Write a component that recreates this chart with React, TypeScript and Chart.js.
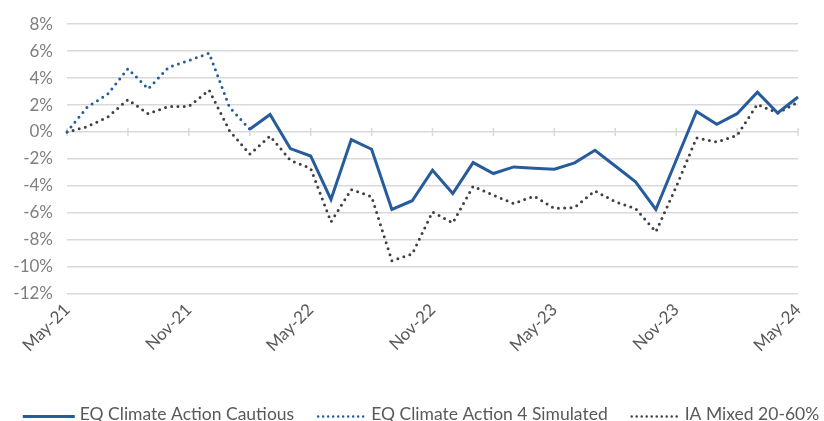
import React, { useEffect, useRef } from "react";
import { Chart, registerables } from "chart.js";

Chart.register(...registerables);

const months = [
  "May-21","Jun-21","Jul-21","Aug-21","Sep-21","Oct-21","Nov-21","Dec-21","Jan-22","Feb-22","Mar-22","Apr-22",
  "May-22","Jun-22","Jul-22","Aug-22","Sep-22","Oct-22","Nov-22","Dec-22","Jan-23","Feb-23","Mar-23","Apr-23",
  "May-23","Jun-23","Jul-23","Aug-23","Sep-23","Oct-23","Nov-23","Dec-23","Jan-24","Feb-24","Mar-24","Apr-24",
  "May-24",
];

const cautious: (number | null)[] = [
  null, null, null, null, null, null, null, null, null, 0.2, 1.3, -1.23,
  -1.78, -5.0, -0.56, -1.28, -5.75, -5.1, -2.84, -4.57, -2.27, -3.08, -2.59, -2.69,
  -2.76, -2.29, -1.36, -2.52, -3.7, -5.75, -2.1, 1.53, 0.57, 1.36, 2.96, 1.41,
  2.6,
];

const simulated: (number | null)[] = [
  0, 1.85, 2.8, 4.7, 3.2, 4.8, 5.3, 5.85, 1.85, 0.2, null, null,
  null, null, null, null, null, null, null, null, null, null, null, null,
  null, null, null, null, null, null, null, null, null, null, null, null,
  null,
];

const iaMixed: number[] = [
  0, 0.4, 1.1, 2.4, 1.35, 1.9, 1.9, 3.1, 0.1, -1.65, -0.3, -2.1,
  -2.7, -6.67, -4.27, -4.8, -9.55, -9.06, -5.93, -6.74, -4.02, -4.69, -5.31, -4.76,
  -5.68, -5.6, -4.37, -5.18, -5.68, -7.4, -4.07, -0.44, -0.74, -0.25, 2.05, 1.41,
  2.22,
];

const seriesNames = ["EQ Climate Action Cautious", "EQ Climate Action 4 Simulated", "IA Mixed 20-60%"];

const FONT = "Lato, 'Open Sans', sans-serif";
const BLUE = "#265C9B";
const DARK = "#404040";

const zeroTicks = {
  id: "zeroTicks",
  beforeDatasetsDraw(chart: any) {
    const x = chart.scales.x;
    const y = chart.scales.y;
    const y0 = y.getPixelForValue(0);
    const ctx = chart.ctx;
    ctx.save();
    ctx.strokeStyle = "#d9d9d9";
    ctx.lineWidth = 1.5;
    for (let i = 0; i < months.length; i += 3) {
      const px = x.getPixelForValue(i);
      ctx.beginPath();
      ctx.moveTo(px, y0 - 4);
      ctx.lineTo(px, y0 + 4);
      ctx.stroke();
    }
    ctx.restore();
  },
};

const bottomLegend = {
  id: "bottomLegend",
  afterDraw(chart: any) {
    const ctx = chart.ctx;
    ctx.save();
    ctx.font = `17.5px ${FONT}`;
    const lineW = 52;
    const textGap = 5;
    const itemGap = 20;
    const widths = chart.data.datasets.map((ds: any) => ctx.measureText(ds.label).width);
    const total = widths.reduce((a: number, w: number) => a + lineW + textGap + w, 0) + itemGap * (widths.length - 1);
    let x = 421 - total / 2;
    const lineY = 416.5;
    const baseY = 420;
    chart.data.datasets.forEach((ds: any, i: number) => {
      const dotted = !!ds.borderDash;
      ctx.beginPath();
      ctx.strokeStyle = ds.borderColor;
      if (dotted) {
        ctx.lineWidth = 2.5;
        ctx.lineCap = "round";
        ctx.setLineDash([0, 5]);
        ctx.moveTo(x + 4, lineY);
        ctx.lineTo(x + lineW - 2, lineY);
      } else {
        ctx.lineWidth = 3;
        ctx.lineCap = "butt";
        ctx.setLineDash([]);
        ctx.moveTo(x, lineY);
        ctx.lineTo(x + lineW, lineY);
      }
      ctx.stroke();
      ctx.setLineDash([]);
      ctx.fillStyle = "#595959";
      ctx.textBaseline = "alphabetic";
      ctx.textAlign = "left";
      ctx.fillText(ds.label, x + lineW + textGap, baseY);
      x += lineW + textGap + widths[i] + itemGap;
    });
    ctx.restore();
  },
};

export default function App() {
  const ref = useRef<HTMLCanvasElement>(null);
  useEffect(() => {
    document.body.style.margin = "0";
    const chart = new Chart(ref.current as HTMLCanvasElement, {
      type: "line",
      data: {
        labels: months,
        datasets: [
          {
            label: seriesNames[0],
            data: cautious,
            borderColor: BLUE,
            backgroundColor: BLUE,
            borderWidth: 3,
            pointRadius: 0,
            tension: 0,
          },
          {
            label: seriesNames[1],
            data: simulated,
            borderColor: BLUE,
            backgroundColor: BLUE,
            borderWidth: 3,
            borderDash: [0, 6.3],
            borderCapStyle: "round",
            pointRadius: 0,
            tension: 0,
          },
          {
            label: seriesNames[2],
            data: iaMixed,
            borderColor: DARK,
            backgroundColor: DARK,
            borderWidth: 3,
            borderDash: [0, 6.3],
            borderCapStyle: "round",
            pointRadius: 0,
            tension: 0,
          },
        ],
      },
      options: {
        animation: false,
        responsive: false,
        layout: { padding: { left: 0, right: 26, top: 20, bottom: 0 } },
        plugins: {
          tooltip: { enabled: false },
          legend: { display: false },
        },
        scales: {
          x: {
            type: "category",
            grid: { display: false, drawTicks: false },
            border: { display: false },
            ticks: {
              autoSkip: false,
              maxRotation: 45,
              minRotation: 45,
              color: "#595959",
              font: { family: FONT, size: 17 },
              padding: 6,
              callback: (_v: any, i: number) => (i % 6 === 0 ? months[i] : ""),
            },
            afterFit: (s: any) => {
              s.height = 127.3;
            },
          },
          y: {
            min: -12,
            max: 8,
            grid: { color: "#d9d9d9", lineWidth: 1.5, drawTicks: false },
            border: { display: false },
            ticks: {
              stepSize: 2,
              autoSkip: false,
              color: "#7f7f7f",
              font: { family: FONT, size: 17 },
              padding: 14,
              callback: (v: any) => `${v}%`,
            },
            afterFit: (s: any) => {
              s.width = 67;
            },
          },
        },
      },
      plugins: [zeroTicks, bottomLegend],
    });
    return () => chart.destroy();
  }, []);
  return (
    <div style={{ width: 824, height: 421, overflow: "hidden" }}>
      <canvas ref={ref} width={824} height={421} />
    </div>
  );
}
